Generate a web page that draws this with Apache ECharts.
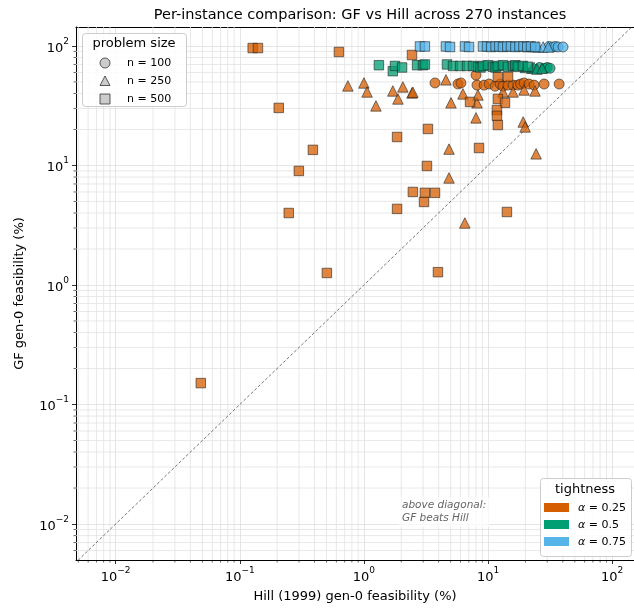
<!DOCTYPE html>
<html>
<head>
<meta charset="utf-8">
<script src="https://cdn.jsdelivr.net/npm/echarts@6/dist/echarts.min.js"></script>
<style>
  html, body { margin: 0; padding: 0; background: #fff; }
  #chart { width: 634px; height: 612px; }
</style>
</head>
<body>
<div id="chart"></div>
<script>
// [Hill gen-0 feasibility %, GF gen-0 feasibility %] per instance
// alpha = 0.25
const a25_n100 = [
  [3.74, 49], [5.73, 48], [6.05, 49], [8.0, 57], [8.15, 47], [9.3, 47], [10.2, 48],
  [11.4, 46], [12.5, 48], [13.2, 46], [14.5, 47], [15.9, 47], [17.4, 47], [18.3, 48],
  [19.5, 49], [21.4, 48], [23.5, 47], [28.3, 48], [37.4, 48]
];
const a25_n250 = [
  [0.743, 46.3], [1.0, 49], [1.06, 41.2], [1.25, 31.5], [1.71, 42], [1.88, 36], [2.06, 45.4],
  [2.44, 40.4], [2.48, 41], [4.58, 52], [5.03, 33.4], [6.28, 39.7], [8.15, 33.4], [8.3, 38.9],
  [8.0, 25], [13.2, 41.2], [15.9, 41.2], [19.5, 42.8], [23.9, 42], [19.2, 23.1], [19.9, 21],
  [24.4, 12.5], [4.85, 13.7], [4.85, 7.86], [6.5, 3.3]
];
const a25_n500 = [
  [0.127, 96], [0.140, 96], [0.629, 89], [2.44, 84], [0.206, 30.3], [0.388, 13.5], [0.299, 9.0],
  [0.248, 4.0], [0.503, 1.26], [0.0485, 0.151], [3.95, 1.28], [1.85, 17.3], [3.28, 20.2],
  [3.22, 9.9], [2.48, 6.0], [3.10, 5.9], [3.74, 5.9], [3.05, 4.95], [1.85, 4.33], [14.2, 4.08],
  [8.46, 14.0], [7.16, 34], [12.0, 36], [13.7, 33.4], [11.8, 29.1], [11.8, 26], [12.0, 21.8],
  [12.0, 55], [14.5, 55]
];
// alpha = 0.5
const a50_n100 = [[26, 66], [28.8, 65], [30, 66], [31.6, 65]];
const a50_n250 = [[20, 66], [22.6, 65], [23.5, 66], [24.8, 64], [27.3, 65]];
const a50_n500 = [
  [1.32, 69], [1.71, 61.5], [1.78, 68], [2.03, 66], [2.68, 69], [2.99, 69], [3.1, 70],
  [4.67, 70], [5.22, 68], [5.95, 68], [6.77, 68], [7.57, 68], [8.29, 67], [8.7, 66], [9.1, 68],
  [10.0, 69], [10.97, 67], [11.5, 66], [12.0, 68], [13.2, 69], [14.5, 67], [15.9, 68],
  [16.6, 69], [17.4, 67], [19.1, 68], [21.0, 67]
];
// alpha = 0.75
const a75_n100 = [[31, 99], [33.4, 98], [35, 99], [36.7, 98], [40.2, 98]];
const a75_n250 = [[21, 99], [23, 99], [25.3, 98], [27.8, 98], [30.6, 98]];
const a75_n500 = [
  [2.83, 99], [3.10, 99], [4.58, 99], [4.94, 98], [6.52, 99], [7.03, 98], [9.1, 99], [9.82, 99],
  [10.6, 98], [11.5, 99], [12.3, 99], [13.2, 98], [14.3, 99], [15.3, 99], [16.6, 98], [17.9, 99],
  [19.3, 99], [20.7, 98], [22.2, 99], [24.0, 98]
];

const groups = [
  { name: 'α=0.25, n=100', data: a25_n100, color: '#D55E00', symbol: 'circle', size: 10 },
  { name: 'α=0.25, n=250', data: a25_n250, color: '#D55E00', symbol: 'triangle', size: 10.5 },
  { name: 'α=0.25, n=500', data: a25_n500, color: '#D55E00', symbol: 'rect', size: 9.5 },
  { name: 'α=0.5, n=100', data: a50_n100, color: '#009E73', symbol: 'circle', size: 10 },
  { name: 'α=0.5, n=250', data: a50_n250, color: '#009E73', symbol: 'triangle', size: 10.5 },
  { name: 'α=0.5, n=500', data: a50_n500, color: '#009E73', symbol: 'rect', size: 9.5 },
  { name: 'α=0.75, n=100', data: a75_n100, color: '#56B4E9', symbol: 'circle', size: 10 },
  { name: 'α=0.75, n=250', data: a75_n250, color: '#56B4E9', symbol: 'triangle', size: 10.5 },
  { name: 'α=0.75, n=500', data: a75_n500, color: '#56B4E9', symbol: 'rect', size: 9.5 }
];

const xMin = 0.00479, xMax = 150;
const yMin = 0.0050, yMax = 144;
const FONT = 'DejaVu Sans';

// minor ticks at 2..9 x 10^k
function minorValues(lo, hi) {
  const out = [];
  for (let k = -4; k <= 3; k++) {
    for (let m = 2; m <= 9; m++) {
      const v = m * Math.pow(10, k);
      if (v > lo && v < hi) out.push(v);
    }
  }
  return out;
}
const minorX = minorValues(xMin, xMax);
const minorY = minorValues(yMin, yMax);

function powLabel(v) {
  const e = Math.round(Math.log10(v));
  return '{b|10}{s|' + (e < 0 ? '−' + (-e) : e) + '}';
}
const labelRich = {
  b: { fontFamily: FONT, fontSize: 13, color: '#000', lineHeight: 18, verticalAlign: 'bottom' },
  s: { fontFamily: FONT, fontSize: 9, color: '#000', lineHeight: 10, verticalAlign: 'top' }
};

const chart = echarts.init(document.getElementById('chart'), null, { renderer: 'canvas' });

const series = [
  {
    type: 'custom', name: 'minorX', silent: true, clip: false, z: 1,
    xAxisIndex: 0, yAxisIndex: 0,
    data: minorX.map(v => [v, 1]),
    renderItem: function (params, api) {
      const v = api.value(0);
      const top = api.coord([v, yMax]);
      const bot = api.coord([v, yMin]);
      return {
        type: 'group',
        children: [
          { type: 'line', shape: { x1: top[0], y1: top[1], x2: bot[0], y2: bot[1] }, style: { stroke: '#e2e2e2', lineWidth: 0.8 } },
          { type: 'line', shape: { x1: bot[0], y1: bot[1], x2: bot[0], y2: bot[1] + 2.5 }, style: { stroke: '#000', lineWidth: 0.6 } }
        ]
      };
    }
  },
  {
    type: 'custom', name: 'minorY', silent: true, clip: false, z: 1,
    xAxisIndex: 0, yAxisIndex: 0,
    data: minorY.map(v => [1, v]),
    renderItem: function (params, api) {
      const v = api.value(1);
      const l = api.coord([xMin, v]);
      const r = api.coord([xMax, v]);
      return {
        type: 'group',
        children: [
          { type: 'line', shape: { x1: l[0], y1: l[1], x2: r[0], y2: r[1] }, style: { stroke: '#e2e2e2', lineWidth: 0.8 } },
          { type: 'line', shape: { x1: l[0], y1: l[1], x2: l[0] - 2.5, y2: l[1] }, style: { stroke: '#000', lineWidth: 0.6 } }
        ]
      };
    }
  },
  {
    type: 'line', name: 'diagonal', silent: true, z: 2,
    data: [[0.001, 0.001], [1000, 1000]],
    symbol: 'none',
    lineStyle: { color: '#555', width: 0.8, type: [3, 2] }
  }
];

groups.forEach(g => {
  series.push({
    type: 'scatter',
    name: g.name,
    data: g.data,
    symbol: g.symbol,
    symbolSize: g.size,
    z: 3,
    itemStyle: { color: g.color, opacity: 0.75, borderColor: '#222', borderWidth: 0.8 }
  });
});

function triPoints(cx, cy, r) {
  return [[cx, cy - r], [cx + r, cy + r * 0.9], [cx - r, cy + r * 0.9]];
}

const graphic = [
  // problem size legend
  { type: 'rect', left: 82, top: 33, shape: { width: 104, height: 73, r: 3 }, style: { fill: 'rgba(255,255,255,0.85)', stroke: '#cccccc', lineWidth: 1 }, z: 10 },
  { type: 'text', x: 134, y: 44, style: { text: 'problem size', font: '13px "DejaVu Sans"', fill: '#000', align: 'center', verticalAlign: 'middle' }, z: 11 },
  { type: 'circle', shape: { cx: 105, cy: 63, r: 5 }, style: { fill: '#cccccc', stroke: '#333', lineWidth: 0.8 }, z: 11 },
  { type: 'polygon', shape: { points: triPoints(105, 81, 5) }, style: { fill: '#cccccc', stroke: '#333', lineWidth: 0.8 }, z: 11 },
  { type: 'rect', shape: { x: 100, y: 94, width: 10, height: 10 }, style: { fill: '#cccccc', stroke: '#333', lineWidth: 0.8 }, z: 11 },
  { type: 'text', x: 127, y: 63, style: { text: 'n = 100', font: '11px "DejaVu Sans"', fill: '#000', verticalAlign: 'middle' }, z: 11 },
  { type: 'text', x: 127, y: 81, style: { text: 'n = 250', font: '11px "DejaVu Sans"', fill: '#000', verticalAlign: 'middle' }, z: 11 },
  { type: 'text', x: 127, y: 99, style: { text: 'n = 500', font: '11px "DejaVu Sans"', fill: '#000', verticalAlign: 'middle' }, z: 11 },
  // tightness legend
  { type: 'rect', left: 540, top: 478, shape: { width: 91, height: 78, r: 3 }, style: { fill: 'rgba(255,255,255,0.85)', stroke: '#cccccc', lineWidth: 1 }, z: 10 },
  { type: 'text', x: 585, y: 490, style: { text: 'tightness', font: '13px "DejaVu Sans"', fill: '#000', align: 'center', verticalAlign: 'middle' }, z: 11 },
  { type: 'rect', shape: { x: 544, y: 503, width: 25, height: 9 }, style: { fill: '#D55E00' }, z: 11 },
  { type: 'rect', shape: { x: 544, y: 520, width: 25, height: 9 }, style: { fill: '#009E73' }, z: 11 },
  { type: 'rect', shape: { x: 544, y: 537, width: 25, height: 9 }, style: { fill: '#56B4E9' }, z: 11 },
  { type: 'text', x: 578, y: 508, style: { text: '{i|α} = 0.25', rich: { i: { fontStyle: 'italic', fontFamily: FONT, fontSize: 11 } }, font: '11px "DejaVu Sans"', fill: '#000', verticalAlign: 'middle' }, z: 11 },
  { type: 'text', x: 578, y: 525, style: { text: '{i|α} = 0.5', rich: { i: { fontStyle: 'italic', fontFamily: FONT, fontSize: 11 } }, font: '11px "DejaVu Sans"', fill: '#000', verticalAlign: 'middle' }, z: 11 },
  { type: 'text', x: 578, y: 542, style: { text: '{i|α} = 0.75', rich: { i: { fontStyle: 'italic', fontFamily: FONT, fontSize: 11 } }, font: '11px "DejaVu Sans"', fill: '#000', verticalAlign: 'middle' }, z: 11 },
  // annotation
  { type: 'text', x: 399, y: 497, style: { text: 'above diagonal:\nGF beats Hill', font: 'italic 10.5px "DejaVu Sans"', fill: '#666', lineHeight: 13, backgroundColor: 'rgba(255,255,255,0.7)', padding: [2, 3, 2, 3] }, z: 9 }
];

const option = {
  animation: false,
  backgroundColor: '#fff',
  title: {
    text: 'Per-instance comparison: GF vs Hill across 270 instances',
    left: 355, top: 3, textAlign: 'center',
    textStyle: { fontFamily: FONT, fontSize: 14.5, fontWeight: 'normal', color: '#000' }
  },
  grid: { left: 76, right: 0, top: 27, bottom: 52 },
  xAxis: [
    {
      type: 'log', logBase: 10, min: xMin, max: xMax,
      name: 'Hill (1999) gen-0 feasibility (%)', nameLocation: 'middle', nameGap: 30,
      nameTextStyle: { fontFamily: FONT, fontSize: 13, color: '#000' },
      axisLine: { show: true, onZero: false, lineStyle: { color: '#000', width: 1 } },
      axisTick: { show: true, length: 4, lineStyle: { color: '#000', width: 0.8 } },
      axisLabel: { show: true, margin: 6, showMinLabel: false, showMaxLabel: false, formatter: powLabel, rich: labelRich },
      splitLine: { show: true, lineStyle: { color: '#dedede', width: 0.8 } }
    },
    {
      type: 'log', logBase: 10, min: xMin, max: xMax, position: 'top',
      axisLine: { show: true, onZero: false, lineStyle: { color: '#000', width: 1 } },
      axisTick: { show: false }, axisLabel: { show: false }, splitLine: { show: false }
    }
  ],
  yAxis: [
    {
      type: 'log', logBase: 10, min: yMin, max: yMax,
      name: 'GF gen-0 feasibility (%)', nameLocation: 'middle', nameGap: 50,
      nameTextStyle: { fontFamily: FONT, fontSize: 13, color: '#000' },
      axisLine: { show: true, onZero: false, lineStyle: { color: '#000', width: 1 } },
      axisTick: { show: true, length: 4, lineStyle: { color: '#000', width: 0.8 } },
      axisLabel: { show: true, margin: 7, showMinLabel: false, showMaxLabel: false, formatter: powLabel, rich: labelRich },
      splitLine: { show: true, lineStyle: { color: '#dedede', width: 0.8 } }
    },
    {
      type: 'log', logBase: 10, min: yMin, max: yMax, position: 'right',
      axisLine: { show: true, onZero: false, lineStyle: { color: '#000', width: 1 } },
      axisTick: { show: false }, axisLabel: { show: false }, splitLine: { show: false }
    }
  ],
  series: series,
  graphic: graphic
};

chart.setOption(option);
</script>
</body>
</html>
